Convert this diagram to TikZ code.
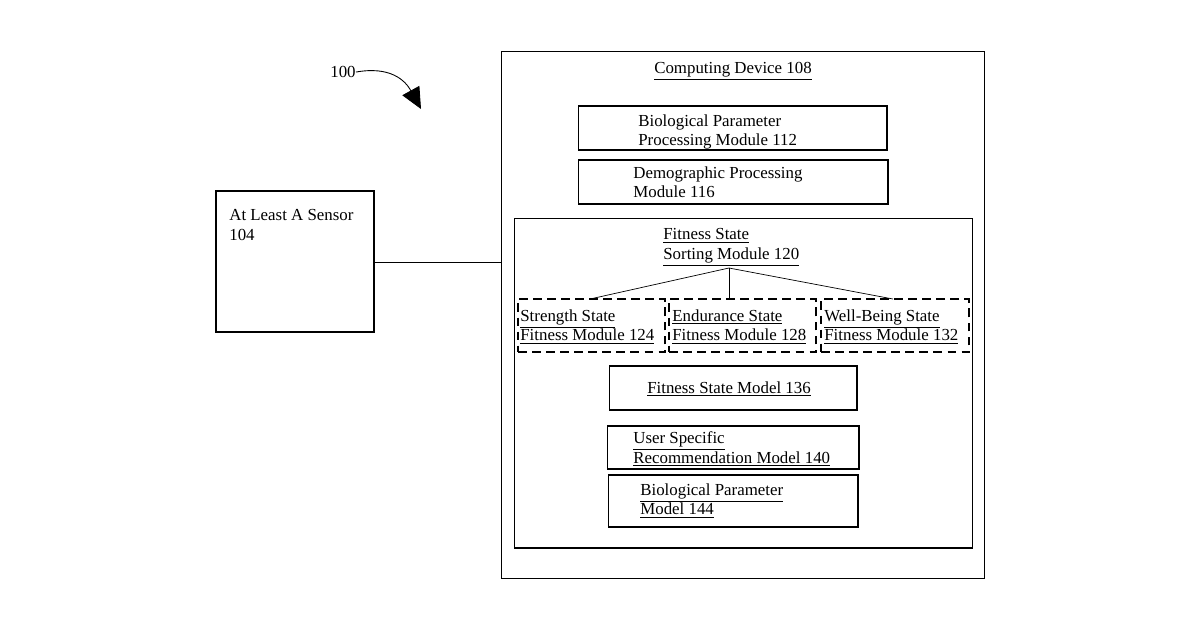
\documentclass[tikz,border=0pt]{standalone}
\usepackage{fontspec}
\setmainfont{Liberation Serif}
\usetikzlibrary{arrows.meta}

\begin{document}
\begin{tikzpicture}[x = 0.02cm, y = -0.02cm, font=\fontsize{9.6}{11.3}\selectfont]
\tikzset{box/.style = {draw, line width = 0.6pt, inner sep = 0pt}}
\tikzset{dbox/.style = {draw, dashed, line width = 0.6pt, inner sep = 0pt, dash pattern = on 5pt off 3pt}}
\tikzset{lbl/.style = {anchor = north west, align = left, inner sep = 0pt}}
\newcommand{\ul}[1]{\underline{#1}}
\useasboundingbox (0,0) rectangle (1200,630);
% outer boxes
\node[box, minimum width = 9.68cm, minimum height = 10.56cm] (dev) at (743,315) {};
\node[box, minimum width = 3.16cm, minimum height = 2.82cm] (sens) at (295,261.5) {};
\node[box, minimum width = 6.18cm, minimum height = 0.88cm] (bpp) at (732.5,128) {};
\node[box, minimum width = 6.2cm, minimum height = 0.88cm] (dem) at (733,182) {};
\node[box, minimum width = 9.18cm, minimum height = 6.6cm] (fit) at (743.5,383) {};
% dashed sub modules
\node[dbox, minimum width = 2.94cm, minimum height = 1.06cm] (str) at (591.5,325.5) {};
\node[dbox, minimum width = 2.94cm, minimum height = 1.06cm] (end) at (742.5,325.5) {};
\node[dbox, minimum width = 2.96cm, minimum height = 1.06cm] (wel) at (895,325.5) {};
% models
\node[box, minimum width = 4.96cm, minimum height = 0.88cm] (fsm) at (733,388) {};
\node[box, minimum width = 5.04cm, minimum height = 0.86cm] (usr) at (733,447.5) {};
\node[box, minimum width = 5.0cm, minimum height = 1.04cm] (bpm) at (733,501) {};
% texts
\node[lbl] (t100) at (330,66) {100};
\node[anchor = north, inner sep = 0pt] (tdev) at (733,62) {\ul{Computing Device 108}};
\node[lbl] (tsens) at (229,209) {At Least A Sensor\\104};
\node[lbl] (tbpp) at (638,114) {Biological Parameter\\Processing Module 112};
\node[lbl] (tdem) at (633,166) {Demographic Processing\\Module 116};
\node[lbl] (tfit) at (663,228) {\ul{Fitness State}\\\ul{Sorting Module 120}};
\node[lbl] (tstr) at (520,309) {\ul{Strength State}\\\ul{Fitness Module 124}};
\node[lbl] (tend) at (672,309) {\ul{Endurance State}\\\ul{Fitness Module 128}};
\node[lbl] (twel) at (824,309) {\ul{Well-Being State}\\\ul{Fitness Module 132}};
\node[anchor = center, inner sep = 0pt] (tfsm) at (729,389) {\ul{Fitness State Model 136}};
\node[lbl] (tusr) at (633,431) {\ul{User Specific}\\\ul{Recommendation Model 140}};
\node[lbl] (tbpm) at (640,483) {\ul{Biological Parameter}\\\ul{Model 144}};
% connectors
\coordinate (root) at (729,268);
\draw (sens.east |- 0,262) -- (dev.west |- 0,262);
\draw (root) -- (590,299);
\draw (root) -- (729,299);
\draw (root) -- (893,299);
\draw[-{Triangle[length=12pt, width=11pt]}, line width = 0.5pt] (t100.east) .. controls (390,66) and (405,80) .. (421,109);
\end{tikzpicture}
\end{document}
